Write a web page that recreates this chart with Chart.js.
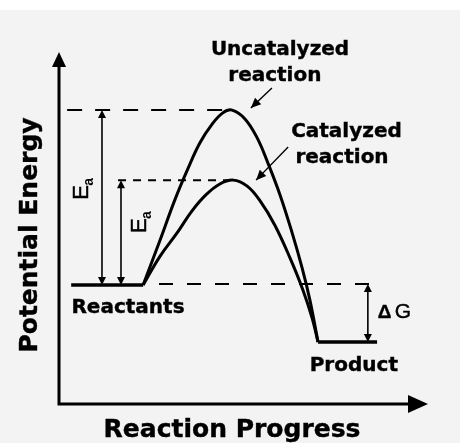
<!DOCTYPE html>
<html>
<head>
<meta charset="utf-8">
<script src="https://cdn.jsdelivr.net/npm/chart.js@4/dist/chart.umd.min.js"></script>
<style>
  html, body { margin: 0; padding: 0; background: #f3f3f3; overflow: hidden; }
  #wrap { width: 460px; height: 443px; }
  canvas { display: block; }
</style>
</head>
<body>
<div id="wrap"><canvas id="myChart" width="460" height="443"></canvas></div>
<script>
// energy levels (arbitrary units, 0..100)
var reactantE = 33.8;
var productE = 17.6;
var uncatPeak = 83.5;
var catPeak = 63.6;

// flat levels
var reactantX = [3.3, 22.8];
var productX = [70.2, 86.2];

// uncatalyzed path
var uncatX = [22.8, 27.4, 31.4, 35.0, 38.2, 41.5, 44.4, 46.9, 50.4, 53.7, 56.6, 59.9, 63.1, 65.9, 68.0, 70.2];
var uncatY = [reactantE, 46.6, 58.0, 67.0, 74.2, 79.5, 82.7, uncatPeak, 81.0, 75.6, 68.5, 59.4, 48.9, 38.6, 29.5, productE];

// catalyzed path
var catX = [22.8, 27.4, 32.0, 36.0, 39.8, 43.6, 47.2, 51.0, 54.5, 58.5, 62.6, 66.1, 68.6, 70.2];
var catY = [reactantE, 42.0, 48.6, 54.8, 59.4, 62.5, catPeak, 61.9, 57.7, 50.8, 41.5, 32.4, 24.4, productE];

function pts(xs, ys) {
  return xs.map(function (x, i) { return { x: x, y: ys[i] }; });
}

var BOLD = "'DejaVu Sans', sans-serif";

function arrowHead(ctx, x1, y1, x2, y2, len, half) {
  var a = Math.atan2(y2 - y1, x2 - x1);
  ctx.beginPath();
  ctx.moveTo(x2, y2);
  ctx.lineTo(x2 - len * Math.cos(a) + half * Math.sin(a), y2 - len * Math.sin(a) - half * Math.cos(a));
  ctx.lineTo(x2 - len * Math.cos(a) - half * Math.sin(a), y2 - len * Math.sin(a) + half * Math.cos(a));
  ctx.closePath();
  ctx.fill();
}

function dashed(ctx, x1, x2, y, pattern) {
  ctx.save();
  ctx.setLineDash(pattern);
  ctx.lineWidth = 2;
  ctx.beginPath();
  ctx.moveTo(x1, y);
  ctx.lineTo(x2, y);
  ctx.stroke();
  ctx.restore();
}

function doubleArrow(ctx, x, yTop, yBot) {
  ctx.lineWidth = 1.6;
  ctx.beginPath();
  ctx.moveTo(x, yTop + 4);
  ctx.lineTo(x, yBot - 4);
  ctx.stroke();
  arrowHead(ctx, x, yBot, x, yTop, 8, 4);
  arrowHead(ctx, x, yTop, x, yBot, 8, 4);
}

function heavyText(ctx, text, x, y) {
  ctx.fillText(text, x, y);
  ctx.strokeText(text, x, y);
}

function eaLabel(ctx, px, py) {
  ctx.save();
  ctx.translate(px, py);
  ctx.rotate(-Math.PI / 2);
  ctx.textAlign = 'left';
  ctx.textBaseline = 'alphabetic';
  ctx.lineWidth = 0.5;
  ctx.font = "22px 'Liberation Sans', sans-serif";
  heavyText(ctx, 'E', 0, 0);
  ctx.font = "bold 14px 'Liberation Sans', sans-serif";
  ctx.fillText('a', 14, 5);
  ctx.restore();
}

var background = {
  id: 'background',
  beforeDraw: function (chart) {
    var ctx = chart.ctx;
    ctx.save();
    ctx.fillStyle = '#ffffff';
    ctx.fillRect(0, 0, chart.width, chart.height);
    ctx.fillStyle = '#f3f3f3';
    ctx.fillRect(0, 10, chart.width, chart.height - 10);
    ctx.restore();
  }
};

var diagram = {
  id: 'diagram',
  afterDatasetsDraw: function (chart) {
    var ctx = chart.ctx;
    var xs = chart.scales.x, ys = chart.scales.y;
    var area = chart.chartArea;
    var X = function (v) { return xs.getPixelForValue(v); };
    var Y = function (v) { return ys.getPixelForValue(v); };
    ctx.save();
    ctx.strokeStyle = '#000';
    ctx.fillStyle = '#000';

    // axes with arrows
    ctx.lineWidth = 3;
    ctx.beginPath();
    ctx.moveTo(area.left, area.top + 10);
    ctx.lineTo(area.left, area.bottom);
    ctx.lineTo(area.right - 15, area.bottom);
    ctx.stroke();
    arrowHead(ctx, area.left, area.bottom, area.left, area.top, 15, 7);
    arrowHead(ctx, area.left, area.bottom, area.right, area.bottom, 20, 9);

    // dashed reference levels
    dashed(ctx, X(2.2), X(45), Y(uncatPeak), [15, 13]);
    dashed(ctx, X(16.0), X(46), Y(catPeak), [8, 7]);
    dashed(ctx, X(27.1), X(85.6), Y(reactantE) - 1, [14, 14]);

    // Ea and dG arrows
    doubleArrow(ctx, X(11.65), Y(uncatPeak), Y(reactantE));
    doubleArrow(ctx, X(16.8), Y(catPeak), Y(reactantE));
    doubleArrow(ctx, X(83.7), Y(reactantE) - 1, Y(productE));

    eaLabel(ctx, X(7.9), Y(58.0));
    eaLabel(ctx, X(23.6), Y(48.6));

    // pointer arrows
    ctx.lineWidth = 1.4;
    ctx.beginPath();
    ctx.moveTo(X(57.7), Y(89.8));
    ctx.lineTo(X(52.0), Y(84.1));
    ctx.stroke();
    arrowHead(ctx, X(57.7), Y(89.8), X(52.0), Y(84.1), 10, 4.5);
    ctx.beginPath();
    ctx.moveTo(X(62.1), Y(73.0));
    ctx.lineTo(X(53.4), Y(63.6));
    ctx.stroke();
    arrowHead(ctx, X(62.1), Y(73.0), X(53.4), Y(63.6), 10, 4.5);

    // labels
    ctx.lineWidth = 0.4;
    ctx.textBaseline = 'alphabetic';
    ctx.textAlign = 'center';
    ctx.font = 'bold 20px ' + BOLD;
    heavyText(ctx, 'Uncatalyzed', X(59.9), Y(99.1));
    heavyText(ctx, 'reaction', X(58.5), Y(91.8));
    heavyText(ctx, 'Catalyzed', X(77.9), Y(75.9));
    heavyText(ctx, 'reaction', X(76.7), Y(68.5));
    heavyText(ctx, 'Reactants', X(18.7), Y(25.9));
    heavyText(ctx, 'Product', X(79.9), Y(9.4));
    ctx.textAlign = 'left';
    ctx.font = "bold 19px 'Liberation Sans', sans-serif";
    heavyText(ctx, '\u0394', X(86.4), Y(24.4));
    ctx.font = "21px 'Liberation Sans', sans-serif";
    heavyText(ctx, 'G', X(86.4) + 17, Y(24.4));

    // axis titles
    ctx.textAlign = 'center';
    ctx.font = 'bold 25px ' + BOLD;
    heavyText(ctx, 'Reaction Progress', 232, 437);
    ctx.save();
    ctx.translate(37, 235);
    ctx.rotate(-Math.PI / 2);
    heavyText(ctx, 'Potential Energy', 0, 0);
    ctx.restore();

    ctx.restore();
  }
};

var lineStyle = {
  borderColor: '#000',
  pointRadius: 0,
  fill: false,
  borderCapStyle: 'butt'
};

var chart = new Chart(document.getElementById('myChart'), {
  type: 'line',
  data: {
    datasets: [
      Object.assign({ label: 'Reactants', data: pts(reactantX, [reactantE, reactantE]), borderWidth: 3.5, tension: 0 }, lineStyle),
      Object.assign({ label: 'Product', data: pts(productX, [productE, productE]), borderWidth: 3.5, tension: 0 }, lineStyle),
      Object.assign({ label: 'Uncatalyzed reaction', data: pts(uncatX, uncatY), borderWidth: 3, tension: 0.4 }, lineStyle),
      Object.assign({ label: 'Catalyzed reaction', data: pts(catX, catY), borderWidth: 3, tension: 0.4 }, lineStyle)
    ]
  },
  options: {
    responsive: false,
    maintainAspectRatio: false,
    devicePixelRatio: 1,
    animation: false,
    events: [],
    layout: { padding: { left: 59, right: 32, top: 52, bottom: 39 } },
    scales: {
      x: { type: 'linear', min: 0, max: 100, display: false },
      y: { type: 'linear', min: 0, max: 100, display: false }
    },
    plugins: {
      legend: { display: false },
      tooltip: { enabled: false },
      title: { display: false }
    }
  },
  plugins: [background, diagram]
});
</script>
</body>
</html>
